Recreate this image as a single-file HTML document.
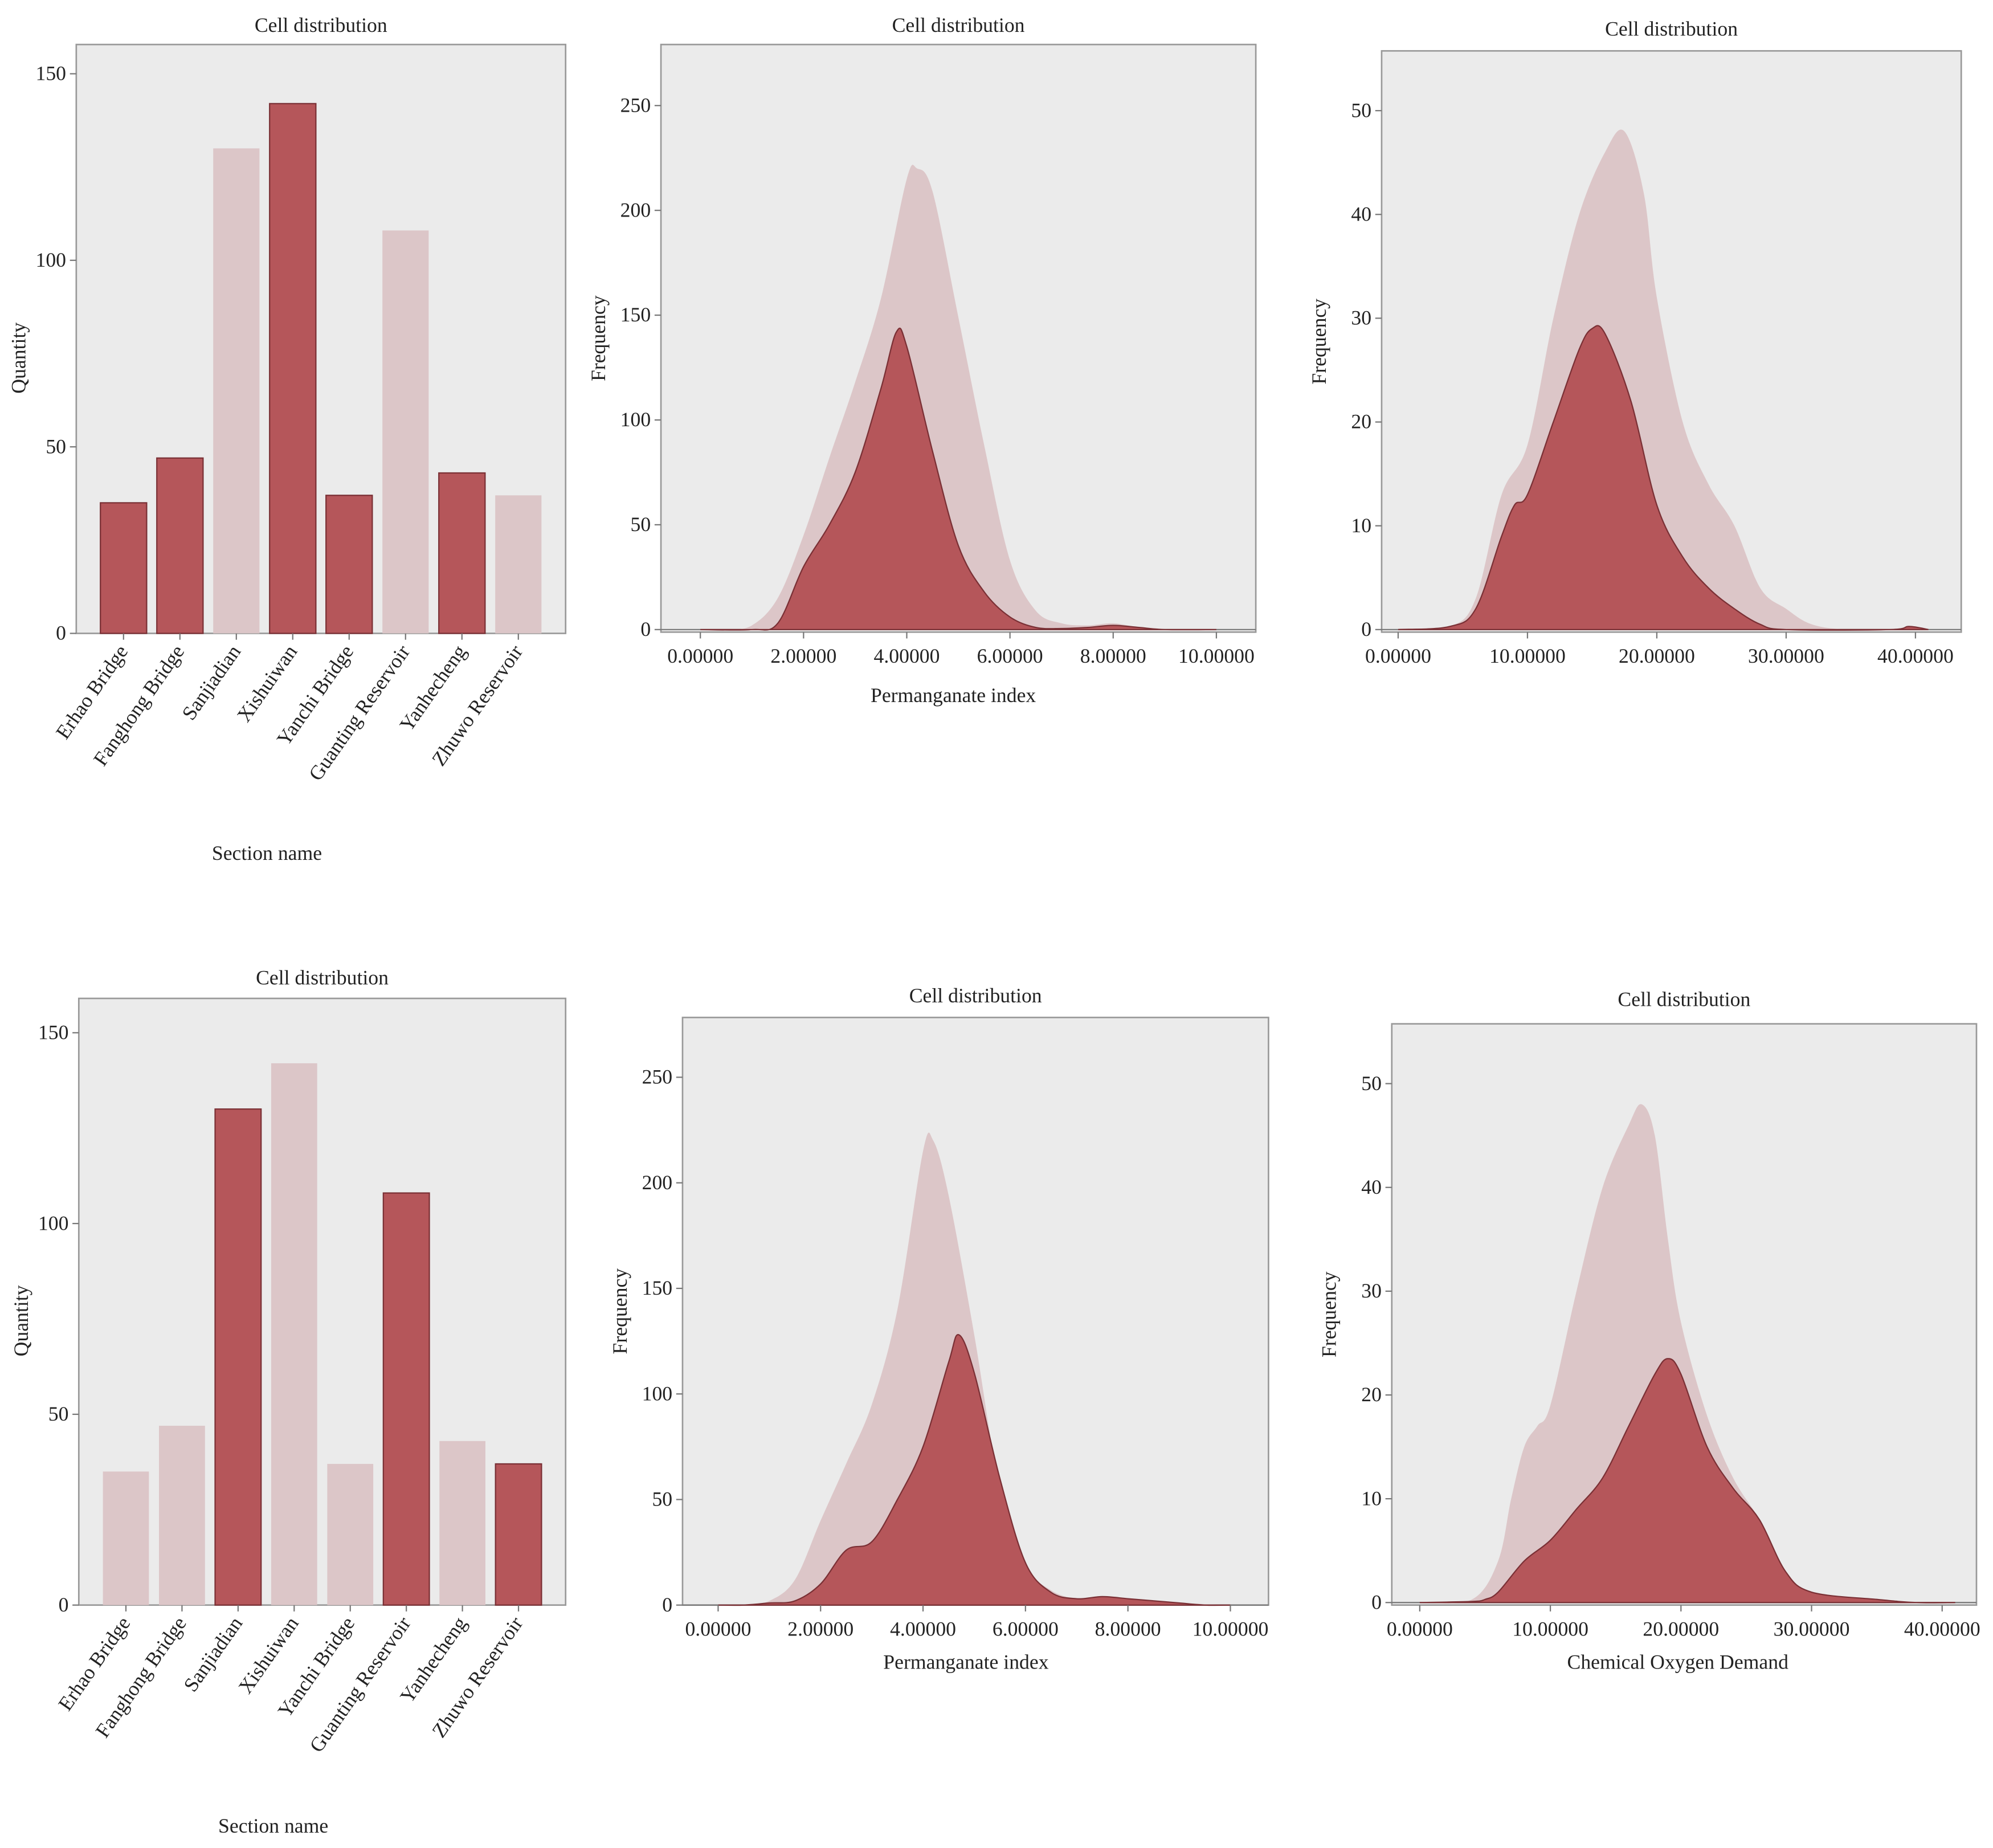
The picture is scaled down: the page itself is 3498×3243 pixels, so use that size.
<!DOCTYPE html>
<html><head><meta charset="utf-8"><style>
html,body{margin:0;padding:0;background:#fff;}
svg{display:block;}
text{font-family:"Liberation Serif",serif;fill:#222;}
</style></head><body>
<svg id="root" width="3498" height="3243" viewBox="0 0 1568 1453" preserveAspectRatio="none" xmlns="http://www.w3.org/2000/svg"></svg>
<script>
const categories=["Erhao Bridge","Fanghong Bridge","Sanjiadian","Xishuiwan","Yanchi Bridge","Guanting Reservoir","Yanhecheng","Zhuwo Reservoir"];
const barValues=[35,47,130,142,37,108,43,37];
const topBarDark=[1,1,0,1,1,0,1,0];
const botBarDark=[0,0,1,0,0,1,0,1];
const yTicksBar=[0,50,100,150];
const pmTicks=[0,2,4,6,8,10];
const pmYTicks=[0,50,100,150,200,250];
const codTicks=[0,10,20,30,40];
const codYTicks=[0,10,20,30,40,50];
const pmTopLightX=[0,0.5,1,1.5,2,2.5,3,3.5,4,4.2,4.5,5,5.5,6,6.5,7,7.5,8,8.5,9,10];
const pmTopLightY=[0,0,2,15,45,82,118,158,215,220,209,149,88,33,9,3,2,3,1,0,0];
const pmTopDarkX=[0,1,1.5,2,2.5,3,3.5,3.8,4,4.5,5,5.5,6,6.5,7,7.5,8,8.5,9,10];
const pmTopDarkY=[0,0,3,30,50,75,115,142,135,85,40,18,6,1,0.5,1,2,1,0,0];
const pmBotLightX=[0,0.5,1,1.5,2,2.5,3,3.5,4,4.2,4.5,5,5.5,6,6.5,7,7.5,8,8.5,9,10];
const pmBotLightY=[0,0,2,12,40,67,95,140,215,220,194,128,55,19,7,3,3,3,2,1,0];
const pmBotDarkX=[0,0.5,1,1.5,2,2.5,3,3.5,4,4.5,4.7,5,5.5,6,6.5,7,7.5,8,8.5,9,9.5,10];
const pmBotDarkY=[0,0,1,2,10,26,30,50,75,115,128,110,60,20,6,3,4,3,2,1,0,0];
const codTopLightX=[0,4,6,8,10,12,14,16,17.5,19,20,22,24,26,28,30,32,35,41];
const codTopLightY=[0,0.3,3,13,17.8,30,40,46,48,42,32,20,14,10,4,2,0.5,0,0];
const codTopDarkX=[0,4,6,8,9,10,12,14,15,16,18,20,22,24,26,28,30,38,39.5,41];
const codTopDarkY=[0,0.3,2,9,12,13,20,27,29,28.5,22,12,7,4,2,0.5,0,0,0.3,0];
const codBotLightX=[0,4,6,7,8,9,10,12,14,16,17,18,19,20,22,24,26,28,30,35,41];
const codBotLightY=[0,0.3,4,10,15,17,19,30,40,46,48,45,35,27,18,12,8,3,1,0,0];
const codBotDarkX=[0,4,5,6,8,10,12,14,16,18,19,20,22,24,26,28,30,35,38,41];
const codBotDarkY=[0,0.1,0.3,1,4,6,9,12,17,22,23.5,22,15,11,8,3,1,0.3,0,0];

const NS="http://www.w3.org/2000/svg";
const root=document.getElementById('root');
function mk(tag,attrs,parent,txt){const e=document.createElementNS(NS,tag);for(const k in attrs)e.setAttribute(k,attrs[k]);if(txt!==undefined)e.textContent=txt;(parent||root).appendChild(e);return e;}
const DARK="#b5565a",DARKS="#7a3035",LIGHT="#dcc6c8",BG="#ebebeb",AX="#777";

function frame(g,b){
  const r=mk('rect',{x:b.x0,y:b.y0,width:b.x1-b.x0,height:b.y1-b.y0,fill:BG,stroke:"#999","stroke-width":1.2},g);
  
  
}
function title(g,x,y,s){const t=mk('text',{x:x,y:y,'font-size':16,'text-anchor':'middle'},g,s);}
function ylabel(g,x,y,s){const t=mk('text',{x:x,y:y,'font-size':16,'text-anchor':'middle',transform:`rotate(-90 ${x} ${y})`},g,s);}
function xlabel(g,x,y,s){const t=mk('text',{x:x,y:y,'font-size':16,'text-anchor':'middle'},g,s);}
function yaxis(g,b,ticks,sy){
  for(const v of ticks){const y=sy(v);
    mk('line',{x1:b.x0-5,x2:b.x0,y1:y,y2:y,stroke:AX},g);
    const t=mk('text',{x:b.x0-8,y:y+5,'font-size':16,'text-anchor':'end'},g,String(v));
    }
}
function barChart(b,name,darkMask,ttl,ttlY){
  const g=mk('g',{},root);
  frame(g,b);
  const sy=v=>b.y1-(v/b.ymax)*(b.y1-b.y0-b.pad);
  const n=categories.length, inner=(b.x1-b.x0-30), step=inner/n, bw=step*0.82;
  categories.forEach((c,i)=>{
    const cx=b.x0+15+step*(i+0.5);
    const y=sy(barValues[i]);
    const dark=darkMask[i];
    const r=mk('rect',{x:cx-bw/2,y:y,width:bw,height:b.y1-y,fill:dark?DARK:LIGHT,stroke:dark?DARKS:'none','stroke-width':1},g);
    
    
    mk('line',{x1:cx,x2:cx,y1:b.y1,y2:b.y1+5,stroke:AX},g);
    const t=mk('text',{x:cx+4,y:b.y1+14,'font-size':16,'text-anchor':'end',transform:`rotate(-55 ${cx+4} ${b.y1+14})`},g,c);
    
  });
  yaxis(g,b,yTicksBar,sy);
  title(g,(b.x0+b.x1)/2,ttlY,ttl);
  ylabel(g,b.x0-40,(b.y0+b.y1)/2+15,"Quantity");
  return g;
}
function catmull(pts){
  let d=`M${pts[0][0]},${pts[0][1]}`;
  for(let i=0;i<pts.length-1;i++){
    const p0=pts[Math.max(0,i-1)],p1=pts[i],p2=pts[i+1],p3=pts[Math.min(pts.length-1,i+2)];
    const c1=[p1[0]+(p2[0]-p0[0])/6,p1[1]+(p2[1]-p0[1])/6];
    const c2=[p2[0]-(p3[0]-p1[0])/6,p2[1]-(p3[1]-p1[1])/6];
    d+=`C${c1[0]},${c1[1]} ${c2[0]},${c2[1]} ${p2[0]},${p2[1]}`;
  }
  return d;
}
function area(g,xs,ys,sx,sy,fill,stroke,name){
  const pts=xs.map((x,i)=>[sx(x),Math.min(sy(0),sy(ys[i]))]);
  const d=catmull(pts)+`L${sx(xs[xs.length-1])},${sy(0)}L${sx(xs[0])},${sy(0)}Z`;
  const p=mk('path',{d:d,fill:fill,stroke:stroke||'none','stroke-width':1},g);
  
}
function densityChart(o){
  const b=o.b;
  const g=mk('g',{},root);
  frame(g,b);
  const sx=v=>b.xz+(v-0)*(b.xe-b.xz)/b.xmax;
  const sy=v=>b.yz-(v/b.ytop)*(b.yz-b.yt);
  mk('line',{x1:b.x0,x2:b.x1,y1:b.yz,y2:b.yz,stroke:AX},g);
  area(g,o.lx,o.ly,sx,sy,LIGHT,null,'density-all');
  area(g,o.dx,o.dy,sx,sy,DARK,DARKS,'density-selected');
  o.xt.forEach(v=>{const x=sx(v);mk('line',{x1:x,x2:x,y1:b.y1,y2:b.y1+5,stroke:AX},g);
    const t=mk('text',{x:x,y:b.y1+24,'font-size':16,'text-anchor':'middle'},g,v.toFixed(5));
    });
  yaxis(g,b,o.yt,sy);
  title(g,(b.x0+b.x1)/2,o.ty,"Cell distribution");
  ylabel(g,b.x0-44,(b.y0+b.y1)/2,"Frequency");
  if(o.xl) xlabel(g,o.xlx,o.xly,o.xl);
}
barChart({x0:60,x1:445,y0:35,y1:498,ymax:150,pad:23},'bar-chart-top',topBarDark,"Cell distribution",25);
xlabel(root,210,676,"Section name");
barChart({x0:62,x1:445,y0:785,y1:1262,ymax:150,pad:27},'bar-chart-bottom',botBarDark,"Cell distribution",774);
xlabel(root,215,1441,"Section name");

densityChart({name:'permanganate-top',b:{x0:520,x1:988,y0:35,y1:497,xz:551,xe:957,xmax:10,yz:495,yt:83,ytop:250},
  lx:pmTopLightX,ly:pmTopLightY,dx:pmTopDarkX,dy:pmTopDarkY,xt:pmTicks,yt:pmYTicks,ty:25,xl:"Permanganate index",xlx:750,xly:552});
densityChart({name:'cod-top',b:{x0:1087,x1:1543,y0:40,y1:497,xz:1100,xe:1507,xmax:40,yz:495,yt:87,ytop:50},
  lx:codTopLightX,ly:codTopLightY,dx:codTopDarkX,dy:codTopDarkY,xt:codTicks,yt:codYTicks,ty:28});
densityChart({name:'permanganate-bottom',b:{x0:537,x1:998,y0:800,y1:1262,xz:565,xe:968,xmax:10,yz:1262,yt:847,ytop:250},
  lx:pmBotLightX,ly:pmBotLightY,dx:pmBotDarkX,dy:pmBotDarkY,xt:pmTicks,yt:pmYTicks,ty:788,xl:"Permanganate index",xlx:760,xly:1312});
densityChart({name:'cod-bottom',b:{x0:1095,x1:1555,y0:805,y1:1262,xz:1117,xe:1528,xmax:40,yz:1260,yt:852,ytop:50},
  lx:codBotLightX,ly:codBotLightY,dx:codBotDarkX,dy:codBotDarkY,xt:codTicks,yt:codYTicks,ty:791,xl:"Chemical Oxygen Demand",xlx:1320,xly:1312});
</script>
</body></html>
